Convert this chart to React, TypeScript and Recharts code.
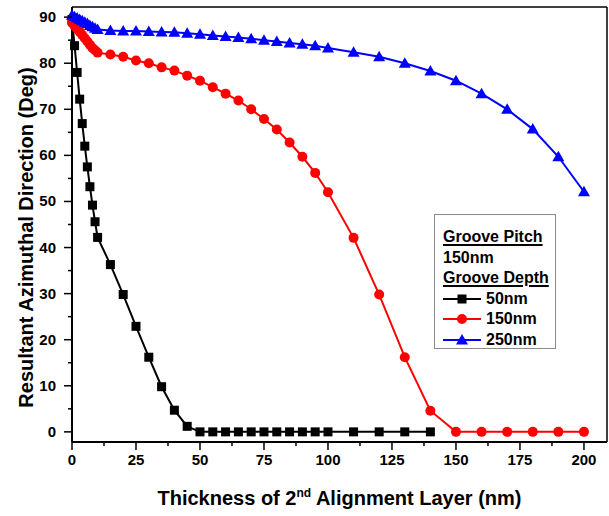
import React from 'react';
import { LineChart, Line, XAxis, YAxis, Legend } from 'recharts';

// ---------- data ----------
const xBlack = [0, 1, 2, 3, 4, 5, 6, 7, 8, 9, 10, 15, 20, 25, 30, 35, 40, 45, 50, 55, 60, 65, 70, 75, 80, 85, 90, 95, 100, 110, 120, 130, 140];
const yBlack = [89.5, 83.8, 78.0, 72.2, 66.9, 62.0, 57.5, 53.2, 49.2, 45.6, 42.2, 36.3, 29.8, 22.9, 16.2, 9.8, 4.7, 1.2, 0, 0, 0, 0, 0, 0, 0, 0, 0, 0, 0, 0, 0, 0, 0];

const xRed = [0, 1, 2, 3, 4, 5, 6, 7, 8, 9, 10, 15, 20, 25, 30, 35, 40, 45, 50, 55, 60, 65, 70, 75, 80, 85, 90, 95, 100, 110, 120, 130, 140, 150, 160, 170, 180, 190, 200];
const yRed = [88.8, 88.1, 87.5, 86.8, 86.1, 85.4, 84.7, 84.0, 83.3, 82.8, 82.3, 81.9, 81.4, 80.6, 80.0, 79.1, 78.4, 77.3, 76.2, 74.8, 73.4, 71.9, 70.0, 67.9, 65.6, 62.8, 59.7, 56.2, 52.0, 42.1, 29.8, 16.2, 4.6, 0, 0, 0, 0, 0, 0];

const xBlue = [0, 1, 2, 3, 4, 5, 6, 7, 8, 9, 10, 15, 20, 25, 30, 35, 40, 45, 50, 55, 60, 65, 70, 75, 80, 85, 90, 95, 100, 110, 120, 130, 140, 150, 160, 170, 180, 190, 200];
const yBlue = [90.4, 90.1, 89.8, 89.5, 89.2, 88.9, 88.6, 88.2, 87.9, 87.6, 87.3, 87.1, 87.0, 87.0, 86.9, 86.8, 86.7, 86.5, 86.3, 86.0, 85.8, 85.6, 85.3, 85.0, 84.7, 84.4, 84.1, 83.8, 83.3, 82.4, 81.4, 80.0, 78.3, 76.2, 73.4, 70.0, 65.7, 59.7, 52.1];

const seriesNames = ['50nm', '150nm', '250nm'];
const seriesColors = ['#000000', '#ff0000', '#0000ff'];

const xTicks = [0, 12.5, 25, 37.5, 50, 62.5, 75, 87.5, 100, 112.5, 125, 137.5, 150, 162.5, 175, 187.5, 200];
const yTicks = [0, 5, 10, 15, 20, 25, 30, 35, 40, 45, 50, 55, 60, 65, 70, 75, 80, 85, 90];
const xDomain = [0, 209];
const yDomain = [-2.2, 92.2];

const xTitle = 'Thickness of 2';
const xTitleSup = 'nd';
const xTitleRest = ' Alignment Layer (nm)';
const yTitle = 'Resultant Azimuthal Direction (Deg)';
const legendTitle1 = 'Groove Pitch';
const legendValue1 = '150nm';
const legendTitle2 = 'Groove Depth';

const toData = (xs: number[], ys: number[]) => xs.map((x, i) => ({ x, y: ys[i] }));
const dataBlack = toData(xBlack, yBlack);
const dataRed = toData(xRed, yRed);
const dataBlue = toData(xBlue, yBlue);

// ---------- styles ----------
const FONT = '"Liberation Sans", Arial, Helvetica, sans-serif';
const TICK_FS = 15;

const isMajorX = (v: number) => Math.abs(v % 25) < 1e-6;
const isMajorY = (v: number) => Math.abs(v % 10) < 1e-6;

const BottomTick = (p: any) => {
  const { x, y, payload } = p;
  const major = isMajorX(payload.value);
  return (
    <g>
      <line x1={x} y1={y} x2={x} y2={y + (major ? 8 : 4)} stroke="#000" strokeWidth={1.5} />
      {major && (
        <text x={x} y={y + 23} textAnchor="middle" fontFamily={FONT} fontWeight="bold" fontSize={TICK_FS} fill="#000">
          {payload.value}
        </text>
      )}
    </g>
  );
};
const TopTick = (p: any) => {
  const { x, y, payload } = p;
  const major = isMajorX(payload.value);
  return <line x1={x} y1={y} x2={x} y2={y + (major ? 8 : 4)} stroke="#000" strokeWidth={1.5} />;
};
const LeftTick = (p: any) => {
  const { x, y, payload } = p;
  const major = isMajorY(payload.value);
  return (
    <g>
      <line x1={x - (major ? 8 : 4)} y1={y} x2={x} y2={y} stroke="#000" strokeWidth={1.5} />
      {major && (
        <text x={x - 16} y={y + 5} textAnchor="end" fontFamily={FONT} fontWeight="bold" fontSize={TICK_FS} fill="#000">
          {payload.value}
        </text>
      )}
    </g>
  );
};
const RightTick = (p: any) => {
  const { x, y, payload } = p;
  const major = isMajorY(payload.value);
  return <line x1={x - (major ? 8 : 4)} y1={y} x2={x} y2={y} stroke="#000" strokeWidth={1.5} />;
};

const Square = (p: any) => {
  const { cx, cy, index } = p;
  if (cx == null || cy == null) return <g key={`s-${index}`} />;
  return <rect key={`s-${index}`} x={cx - 4.5} y={cy - 4.5} width={9} height={9} fill="#000" />;
};
const Circle = (p: any) => {
  const { cx, cy, index } = p;
  if (cx == null || cy == null) return <g key={`c-${index}`} />;
  return <circle key={`c-${index}`} cx={cx} cy={cy} r={5} fill="#ff0000" />;
};
const Triangle = (p: any) => {
  const { cx, cy, index } = p;
  if (cx == null || cy == null) return <g key={`t-${index}`} />;
  return (
    <polygon
      key={`t-${index}`}
      points={`${cx},${cy - 6} ${cx - 6},${cy + 4.5} ${cx + 6},${cy + 4.5}`}
      fill="#0000ff"
    />
  );
};

const XTitle = (p: any) => {
  const vb = p.viewBox || {};
  const cx = vb.x + vb.width / 2;
  return (
    <text x={cx} y={vb.y + 63} textAnchor="middle" fontFamily={FONT} fontWeight="bold" fontSize={20} fill="#000">
      {xTitle}
      <tspan dy={-8} fontSize={12}>{xTitleSup}</tspan>
      <tspan dy={8}>{xTitleRest}</tspan>
    </text>
  );
};
const YTitle = (p: any) => {
  const vb = p.viewBox || {};
  const tx = vb.x + 33;
  const ty = vb.y + vb.height / 2 + 13;
  return (
    <text x={tx} y={ty} transform={`rotate(-90, ${tx}, ${ty})`} textAnchor="middle" fontFamily={FONT} fontWeight="bold" fontSize={20} fill="#000">
      {yTitle}
    </text>
  );
};

const markerFor = (i: number) => {
  const c = seriesColors[i];
  if (i === 0) return <rect x={14.5} y={5.5} width={9} height={9} fill={c} />;
  if (i === 1) return <circle cx={19} cy={10} r={5} fill={c} />;
  return <polygon points={`19,4 13,14.5 25,14.5`} fill={c} />;
};

const LegendBox = () => (
  <div
    style={{
      width: 122,
      height: 135,
      boxSizing: 'border-box',
      border: '1px solid #8a8a8a',
      background: '#fff',
      paddingTop: 12,
      paddingLeft: 8,
      fontFamily: FONT,
      fontWeight: 'bold',
      fontSize: 16,
      lineHeight: '20.5px',
      color: '#000',
      textAlign: 'left',
    }}
  >
    <div style={{ textDecoration: 'underline', textDecorationThickness: 2, textUnderlineOffset: 2 }}>{legendTitle1}</div>
    <div>{legendValue1}</div>
    <div style={{ textDecoration: 'underline', textDecorationThickness: 2, textUnderlineOffset: 2 }}>{legendTitle2}</div>
    {seriesNames.map((n, i) => (
      <div key={n} style={{ display: 'flex', alignItems: 'center', height: 20.5 }}>
        <svg width={43} height={20} style={{ display: 'block' }}>
          <line x1={0} y1={10} x2={38} y2={10} stroke={seriesColors[i]} strokeWidth={2} />
          {markerFor(i)}
        </svg>
        <span>{n}</span>
      </div>
    ))}
  </div>
);

export default function App() {
  return (
    <div style={{ position: 'absolute', left: 0, top: 0, width: 609, height: 516, background: '#fff' }}>
      <LineChart width={609} height={516} margin={{ top: 7, right: 2, left: 0, bottom: 0 }}>
        <XAxis
          xAxisId="b"
          dataKey="x"
          type="number"
          domain={xDomain}
          ticks={xTicks}
          interval={0}
          tickSize={0}
          tickMargin={0}
          tickLine={false}
          tick={(p: any) => <BottomTick {...p} />}
          axisLine={{ stroke: '#000', strokeWidth: 2 }}
          height={74}
          label={<XTitle />}
        />
        <XAxis
          xAxisId="t"
          orientation="top"
          mirror
          type="number"
          domain={xDomain}
          ticks={xTicks}
          interval={0}
          tickSize={0}
          tickMargin={0}
          tickLine={false}
          tick={(p: any) => <TopTick {...p} />}
          axisLine={{ stroke: '#000', strokeWidth: 1.5 }}
          height={1}
        />
        <YAxis
          yAxisId="l"
          type="number"
          domain={yDomain}
          ticks={yTicks}
          interval={0}
          tickSize={0}
          tickMargin={0}
          tickLine={false}
          tick={(p: any) => <LeftTick {...p} />}
          axisLine={{ stroke: '#000', strokeWidth: 2 }}
          width={72}
          label={<YTitle />}
        />
        <YAxis
          yAxisId="r"
          orientation="right"
          mirror
          type="number"
          domain={yDomain}
          ticks={yTicks}
          interval={0}
          tickSize={0}
          tickMargin={0}
          tickLine={false}
          tick={(p: any) => <RightTick {...p} />}
          axisLine={{ stroke: '#000', strokeWidth: 1.5 }}
          width={1}
        />
        <Line
          xAxisId="b"
          yAxisId="l"
          data={dataBlack}
          dataKey="y"
          name={seriesNames[0]}
          stroke={seriesColors[0]}
          strokeWidth={2}
          dot={Square}
          activeDot={false}
          isAnimationActive={false}
        />
        <Line
          xAxisId="b"
          yAxisId="l"
          data={dataRed}
          dataKey="y"
          name={seriesNames[1]}
          stroke={seriesColors[1]}
          strokeWidth={2}
          dot={Circle}
          activeDot={false}
          isAnimationActive={false}
        />
        <Line
          xAxisId="b"
          yAxisId="l"
          data={dataBlue}
          dataKey="y"
          name={seriesNames[2]}
          stroke={seriesColors[2]}
          strokeWidth={2}
          dot={Triangle}
          activeDot={false}
          isAnimationActive={false}
        />
        <Legend
          layout="vertical"
          align="center"
          verticalAlign="middle"
          content={() => <LegendBox />}
          wrapperStyle={{ position: 'absolute', left: 434, top: 214, width: 122, height: 135, margin: 0, padding: 0 }}
        />
      </LineChart>
    </div>
  );
}
